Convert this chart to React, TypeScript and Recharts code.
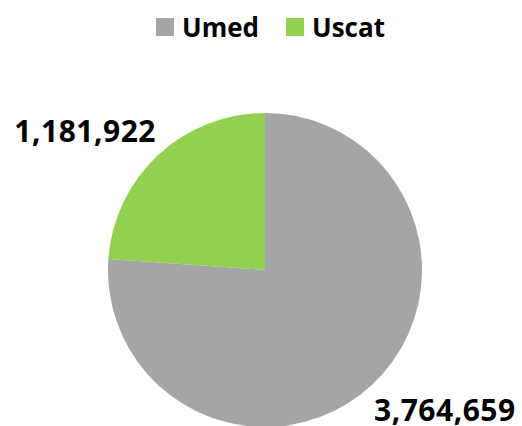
import React from 'react';
import { PieChart, Pie, Cell } from 'recharts';

const categories = ['Umed', 'Uscat'];
const values = [3764659, 1181922];
const colors = ['#A5A5A5', '#92D050'];

const data = categories.map((name, i) => ({ name, value: values[i] }));

const FONT = '"Open Sans", "Noto Sans", sans-serif';
const RADIAN = Math.PI / 180;

// data labels sit just outside the slice, nudged a little clockwise like Excel's best fit
const renderLabel = (props: any) => {
  const { cx, cy, midAngle, outerRadius, value } = props;
  const r = outerRadius + 20;
  const a = (midAngle - 5) * RADIAN;
  const x = cx + r * Math.cos(-a);
  const y = cy + r * Math.sin(-a);
  const left = x < cx;
  return (
    <text
      x={x}
      y={y}
      textAnchor={left ? 'end' : 'start'}
      dominantBaseline="central"
      fill="#000"
      fontFamily={FONT}
      fontWeight={700}
      fontSize={30}
      letterSpacing={0.5}
    >
      {value.toLocaleString('en-US')}
    </text>
  );
};

export default function App() {
  return (
    <div style={{ position: 'absolute', left: 0, top: 0, width: 522, height: 426, background: '#fff', overflow: 'hidden' }}>
      <div
        style={{
          position: 'absolute',
          top: 12,
          left: 0,
          width: 522,
          paddingLeft: 19,
          boxSizing: 'border-box',
          display: 'flex',
          justifyContent: 'center',
          gap: 27,
          fontFamily: FONT,
          fontWeight: 700,
          fontSize: 26,
        }}
      >
        {categories.map((c, i) => (
          <div key={c} style={{ display: 'flex', alignItems: 'center' }}>
            <span style={{ width: 18, height: 18, background: colors[i], marginRight: 8, display: 'inline-block' }} />
            <span style={{ lineHeight: '30px' }}>{c}</span>
          </div>
        ))}
      </div>
      <PieChart width={522} height={426} margin={{ top: 0, right: 0, bottom: 0, left: 0 }}>
        <Pie
          data={data}
          dataKey="value"
          nameKey="name"
          cx={265}
          cy={270}
          outerRadius={157}
          startAngle={90}
          endAngle={-270}
          stroke="none"
          label={renderLabel}
          labelLine={false}
          isAnimationActive={false}
        >
          {data.map((d, i) => (
            <Cell key={d.name} fill={colors[i]} />
          ))}
        </Pie>
      </PieChart>
    </div>
  );
}
